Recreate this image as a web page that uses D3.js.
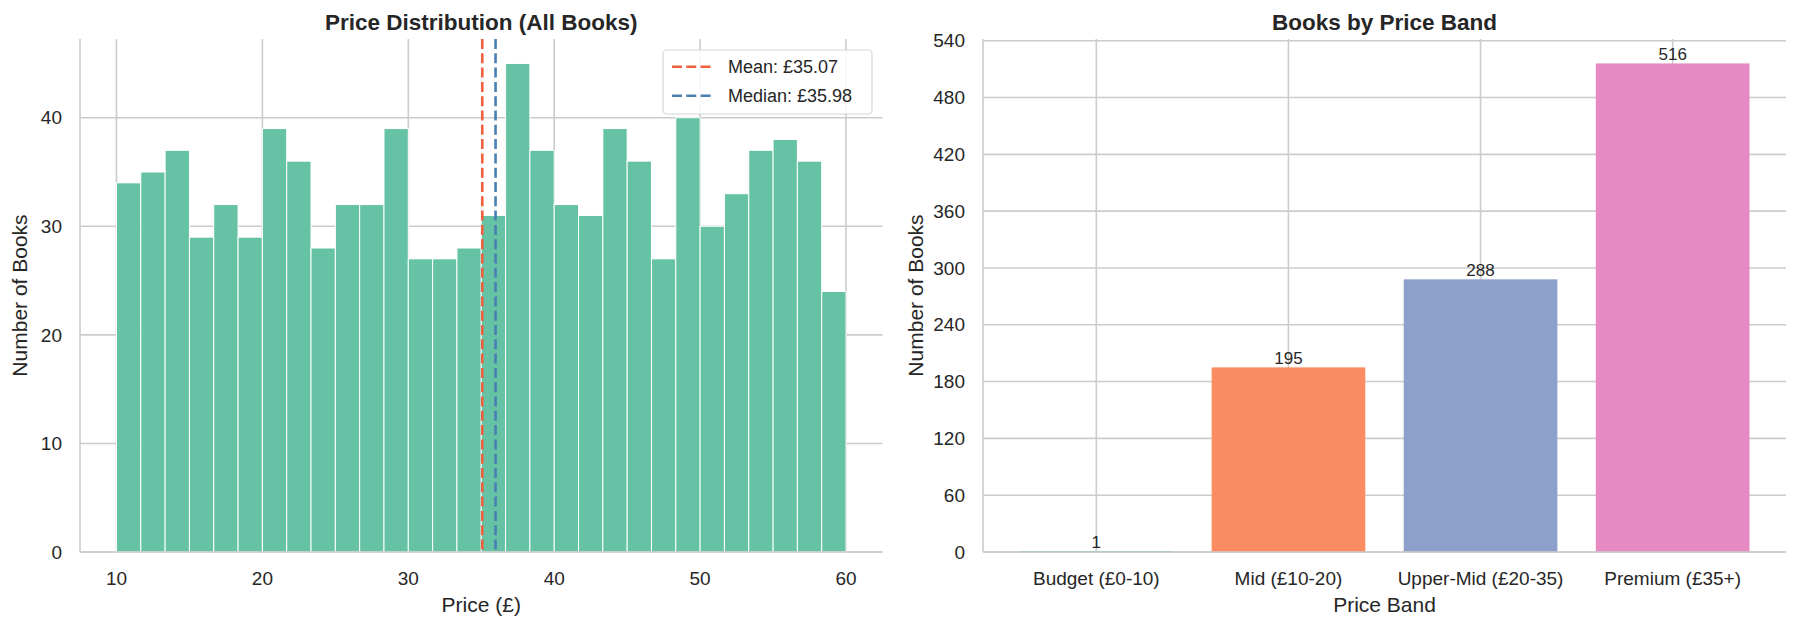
<!DOCTYPE html>
<html>
<head>
<meta charset="utf-8">
<script src="https://cdn.jsdelivr.net/npm/d3@7"></script>
<style>
body { margin: 0; background: #fff; }
text { font-family: "Liberation Sans", Arial, sans-serif; fill: #262626; }
.grid line { stroke: #cccccc; stroke-width: 1.6; }
.spine { stroke: #cccccc; stroke-width: 1.6; }
</style>
</head>
<body>
<div id="chart"></div>
<script>
var width = 1799,
    height = 629;

// histogram counts (30 bins between £10 and £60)
var histCounts = [34, 35, 37, 29, 32, 29, 39, 36, 28, 32, 32, 39, 27, 27, 28,
                  31, 45, 37, 32, 31, 39, 36, 27, 40, 30, 33, 37, 38, 36, 24];
var histMin = 10, histMax = 60;
var priceTicks = [10, 20, 30, 40, 50, 60];
var countTicks = [0, 10, 20, 30, 40];
var meanPrice = 35.07, medianPrice = 35.98;

var bands = ["Budget (£0-10)", "Mid (£10-20)", "Upper-Mid (£20-35)", "Premium (£35+)"];
var bandCounts = [1, 195, 288, 516];
var bandColors = ["#66c2a5", "#fc8d62", "#8da0cb", "#e78ac3"];
var bandTicks = [0, 60, 120, 180, 240, 300, 360, 420, 480, 540];

var plotTop = 39, plotBottom = 552;

var svg = d3.select("#chart")
    .append("svg")
    .attr("width", width)
    .attr("height", height);

svg.append("rect")
    .attr("width", width)
    .attr("height", height)
    .attr("fill", "#fff");

// ---------- left: price histogram ----------
var x1 = d3.scaleLinear().domain([7.5, 62.5]).range([80, 882.5]);
var y1 = d3.scaleLinear().domain([0, 47.25]).range([plotBottom, plotTop]);

var g1 = svg.append("g");

var grid1 = g1.append("g").attr("class", "grid");
grid1.selectAll("line.h")
    .data(countTicks)
    .enter()
    .append("line")
    .attr("x1", x1.range()[0]).attr("x2", x1.range()[1])
    .attr("y1", function (d) { return y1(d); })
    .attr("y2", function (d) { return y1(d); });
grid1.selectAll("line.v")
    .data(priceTicks)
    .enter()
    .append("line")
    .attr("y1", plotTop).attr("y2", plotBottom)
    .attr("x1", function (d) { return x1(d); })
    .attr("x2", function (d) { return x1(d); });

var binW = (histMax - histMin) / histCounts.length;

g1.selectAll("rect.bin")
    .data(histCounts)
    .enter()
    .append("rect")
    .attr("class", "bin")
    .attr("x", function (d, i) { return x1(histMin + i * binW); })
    .attr("width", x1(histMin + binW) - x1(histMin))
    .attr("y", function (d) { return y1(d); })
    .attr("height", function (d) { return y1(0) - y1(d); })
    .attr("fill", "#66c2a5")
    .attr("stroke", "#fff")
    .attr("stroke-width", 1);

g1.append("line").attr("class", "spine")
    .attr("x1", x1.range()[0]).attr("x2", x1.range()[0])
    .attr("y1", plotTop).attr("y2", plotBottom);
g1.append("line").attr("class", "spine")
    .attr("x1", x1.range()[0]).attr("x2", x1.range()[1])
    .attr("y1", plotBottom).attr("y2", plotBottom);

var refLines = [
    { value: meanPrice, color: "#f0603f", label: "Mean: £" + meanPrice.toFixed(2) },
    { value: medianPrice, color: "#4a7fb2", label: "Median: £" + medianPrice.toFixed(2) }
];

g1.selectAll("line.ref")
    .data(refLines)
    .enter()
    .append("line")
    .attr("x1", function (d) { return x1(d.value); })
    .attr("x2", function (d) { return x1(d.value); })
    .attr("y1", plotTop).attr("y2", plotBottom)
    .attr("stroke", function (d) { return d.color; })
    .attr("stroke-width", 2.6)
    .attr("stroke-dasharray", "10,4.3");

g1.selectAll("text.yt")
    .data(countTicks)
    .enter()
    .append("text")
    .attr("x", 62)
    .attr("y", function (d) { return y1(d); })
    .attr("dy", "0.35em")
    .attr("text-anchor", "end")
    .style("font-size", "19px")
    .text(function (d) { return d; });

g1.selectAll("text.xt")
    .data(priceTicks)
    .enter()
    .append("text")
    .attr("x", function (d) { return x1(d); })
    .attr("y", 585)
    .attr("text-anchor", "middle")
    .style("font-size", "19px")
    .text(function (d) { return d; });

g1.append("text")
    .attr("x", (x1.range()[0] + x1.range()[1]) / 2)
    .attr("y", 30)
    .attr("text-anchor", "middle")
    .style("font-size", "22.5px")
    .style("font-weight", "bold")
    .text("Price Distribution (All Books)");

g1.append("text")
    .attr("x", (x1.range()[0] + x1.range()[1]) / 2)
    .attr("y", 612)
    .attr("text-anchor", "middle")
    .style("font-size", "21px")
    .text("Price (£)");

g1.append("text")
    .attr("transform", "translate(27," + ((plotTop + plotBottom) / 2) + ")rotate(-90)")
    .attr("text-anchor", "middle")
    .style("font-size", "21px")
    .text("Number of Books");

// legend
var legend = g1.append("g");
legend.append("rect")
    .attr("x", 663).attr("y", 50)
    .attr("width", 209).attr("height", 64)
    .attr("rx", 4)
    .attr("fill", "#fff")
    .attr("fill-opacity", 0.85)
    .attr("stroke", "#d6d6d6")
    .attr("stroke-width", 1.2);

var items = legend.selectAll("g.item")
    .data(refLines)
    .enter()
    .append("g")
    .attr("transform", function (d, i) { return "translate(0," + (66.7 + i * 29) + ")"; });

items.append("line")
    .attr("x1", 672).attr("x2", 713)
    .attr("stroke", function (d) { return d.color; })
    .attr("stroke-width", 2.6)
    .attr("stroke-dasharray", "10,4.3");

items.append("text")
    .attr("x", 728)
    .attr("dy", "0.35em")
    .style("font-size", "18px")
    .text(function (d) { return d.label; });

// ---------- right: books by price band ----------
var x2 = d3.scaleBand()
    .domain(bands)
    .range([983, 1786])
    .paddingInner(0.2)
    .paddingOuter(0.19);
var y2 = d3.scaleLinear().domain([0, 541.8]).range([plotBottom, plotTop]);

var g2 = svg.append("g");

var grid2 = g2.append("g").attr("class", "grid");
grid2.selectAll("line.h")
    .data(bandTicks)
    .enter()
    .append("line")
    .attr("x1", x2.range()[0]).attr("x2", x2.range()[1])
    .attr("y1", function (d) { return y2(d); })
    .attr("y2", function (d) { return y2(d); });
grid2.selectAll("line.v")
    .data(bands)
    .enter()
    .append("line")
    .attr("y1", plotTop).attr("y2", plotBottom)
    .attr("x1", function (d) { return x2(d) + x2.bandwidth() / 2; })
    .attr("x2", function (d) { return x2(d) + x2.bandwidth() / 2; });

g2.selectAll("rect.band")
    .data(bandCounts)
    .enter()
    .append("rect")
    .attr("class", "band")
    .attr("x", function (d, i) { return x2(bands[i]); })
    .attr("width", x2.bandwidth())
    .attr("y", function (d) { return y2(d); })
    .attr("height", function (d) { return y2(0) - y2(d); })
    .attr("fill", function (d, i) { return bandColors[i]; });

g2.append("line").attr("class", "spine")
    .attr("x1", x2.range()[0]).attr("x2", x2.range()[0])
    .attr("y1", plotTop).attr("y2", plotBottom);
g2.append("line").attr("class", "spine")
    .attr("x1", x2.range()[0]).attr("x2", x2.range()[1])
    .attr("y1", plotBottom).attr("y2", plotBottom);

g2.selectAll("text.val")
    .data(bandCounts)
    .enter()
    .append("text")
    .attr("x", function (d, i) { return x2(bands[i]) + x2.bandwidth() / 2; })
    .attr("y", function (d) { return y2(d) - 3; })
    .attr("text-anchor", "middle")
    .style("font-size", "17px")
    .text(function (d) { return d; });

g2.selectAll("text.yt")
    .data(bandTicks)
    .enter()
    .append("text")
    .attr("x", 965)
    .attr("y", function (d) { return y2(d); })
    .attr("dy", "0.35em")
    .attr("text-anchor", "end")
    .style("font-size", "19px")
    .text(function (d) { return d; });

g2.selectAll("text.xt")
    .data(bands)
    .enter()
    .append("text")
    .attr("x", function (d) { return x2(d) + x2.bandwidth() / 2; })
    .attr("y", 585)
    .attr("text-anchor", "middle")
    .style("font-size", "19px")
    .text(function (d) { return d; });

g2.append("text")
    .attr("x", (x2.range()[0] + x2.range()[1]) / 2)
    .attr("y", 30)
    .attr("text-anchor", "middle")
    .style("font-size", "22.5px")
    .style("font-weight", "bold")
    .text("Books by Price Band");

g2.append("text")
    .attr("x", (x2.range()[0] + x2.range()[1]) / 2)
    .attr("y", 612)
    .attr("text-anchor", "middle")
    .style("font-size", "21px")
    .text("Price Band");

g2.append("text")
    .attr("transform", "translate(923," + ((plotTop + plotBottom) / 2) + ")rotate(-90)")
    .attr("text-anchor", "middle")
    .style("font-size", "21px")
    .text("Number of Books");
</script>
</body>
</html>
